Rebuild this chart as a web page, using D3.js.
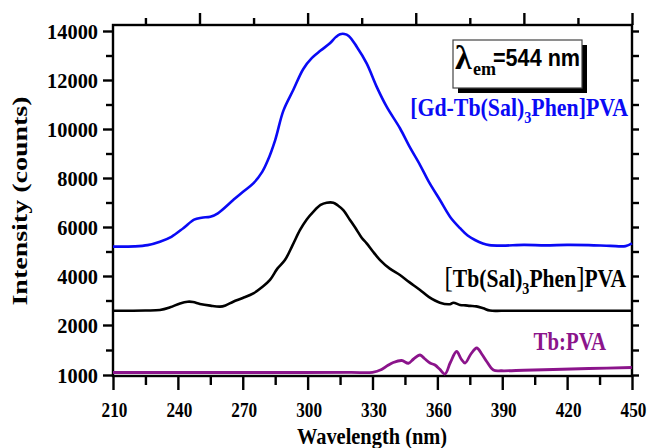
<!DOCTYPE html>
<html><head><meta charset="utf-8">
<script src="https://cdn.jsdelivr.net/npm/d3@7"></script>
<style>
html,body{margin:0;padding:0;background:#fff;}
svg{display:block;}
</style></head><body>
<svg id="chart" width="648" height="448"></svg>
<script>
// Excitation spectra (emission monitored at 544 nm)
const xMajorTicks = [210, 240, 270, 300, 330, 360, 390, 420, 450];
const xMinorTicks = [225, 255, 285, 315, 345, 375, 405, 435];
const xTopMajor = [250, 300, 350, 400, 450];
const xTopMinor = [225, 275, 325, 375, 425];
const yMajorTicks = [1000, 2000, 4000, 6000, 8000, 10000, 12000, 14000];
const yTickLabels = ["1000", "2000", "4000", "6000", "8000", "10000", "12000", "14000"];
const yMinorTicks = [1500, 3000, 5000, 7000, 9000, 11000, 13000];

// [Gd-Tb(Sal)3Phen]PVA
const gdWl = [210, 220, 226, 231.7, 237, 242.5, 247.5, 251, 255, 258.5, 265.6, 270, 275, 279, 281.5, 285, 288.8, 293.4, 298, 302, 306, 310.3, 313, 315, 317, 319, 322.7, 327.3, 331.9, 336.6, 342.7, 347, 352, 356, 361.2, 366, 370.5, 374, 377.4, 381, 384, 390, 400, 410, 420, 430, 440, 447, 450];
const gdVal = [5200, 5210, 5260, 5400, 5600, 5950, 6300, 6380, 6420, 6560, 7100, 7430, 7790, 8250, 8700, 9550, 10750, 11600, 12450, 12900, 13200, 13500, 13750, 13870, 13880, 13800, 13360, 12680, 11730, 10900, 10030, 9300, 8530, 7850, 7100, 6400, 5950, 5650, 5470, 5330, 5260, 5240, 5270, 5250, 5270, 5260, 5230, 5220, 5330];

// [Tb(Sal)3Phen]PVA
const tbWl = [210, 225, 231.7, 236.4, 241, 244.5, 247, 250.2, 255, 259.5, 262, 265.6, 270, 274.9, 279, 282.6, 286, 289.5, 293, 296.5, 299.5, 302.6, 306, 308.8, 311.9, 314, 316.5, 319.5, 322.7, 325, 327.3, 330, 333.5, 338, 342.7, 347, 352, 356, 361.2, 365.8, 367.4, 370.5, 373, 375.1, 378, 381.2, 384.3, 390, 420, 450];
const tbVal = [2580, 2590, 2610, 2720, 2880, 2950, 2940, 2860, 2790, 2750, 2800, 2950, 3100, 3290, 3550, 3840, 4300, 4650, 5250, 5880, 6300, 6620, 6900, 6990, 6990, 6880, 6690, 6300, 5880, 5560, 5330, 5020, 4650, 4300, 4040, 3750, 3430, 3150, 2910, 2850, 2910, 2820, 2800, 2780, 2760, 2680, 2590, 2580, 2580, 2580];

// Tb:PVA
const pvaWl = [210, 250, 290, 320, 330, 334.2, 337, 339.6, 343.5, 346.6, 349, 352, 354, 356.6, 358.9, 361, 363.5, 366, 368.9, 371, 372.8, 375.5, 378.2, 380.5, 382.8, 385.9, 389.7, 400, 413.6, 430, 449.9];
const pvaVal = [1050, 1050, 1050, 1052, 1054, 1110, 1190, 1250, 1290, 1235, 1320, 1400, 1330, 1240, 1200, 1120, 1020, 1250, 1470, 1320, 1240, 1420, 1540, 1420, 1270, 1100, 1085, 1095, 1110, 1130, 1150];

const svg = d3.select("#chart");
const plotL = 113, plotR = 632, plotT = 25, plotB = 376;

const x = d3.scaleLinear().domain([210, 450]).range([plotL, plotR]);
// the lowest labelled step (1000 to 2000) spans the same height as a 2000 step
const y = d3.scaleLinear().domain([1000, 2000, 14000]).range([375, 325, 31]);

const serif = "'Liberation Serif', 'Times New Roman', serif";
const sans = "'Liberation Sans', Arial, sans-serif";

function styleAxis(g) {
  g.select(".domain").remove();
  g.selectAll("line").attr("stroke", "#000").attr("stroke-width", 2.4);
  g.attr("font-family", serif).attr("font-size", 21).attr("font-weight", "bold");
  g.selectAll("text").attr("fill", "#000");
}

// bottom axis
svg.append("g").attr("transform", `translate(0,${plotB})`)
  .call(d3.axisBottom(x).tickValues(xMinorTicks).tickSize(9).tickFormat(""))
  .call(styleAxis);
svg.append("g").attr("transform", `translate(0,${plotB})`)
  .call(d3.axisBottom(x).tickValues(xMajorTicks).tickSize(14).tickFormat(d3.format("d")))
  .call(styleAxis)
  .call(g => g.selectAll("text").attr("y", null).attr("dy", null)
    .attr("transform", "translate(1,41) scale(0.82,1)"));

// top axis
svg.append("g").attr("transform", `translate(0,${plotT})`)
  .call(d3.axisTop(x).tickValues(xTopMinor).tickSize(7).tickFormat(""))
  .call(styleAxis);
svg.append("g").attr("transform", `translate(0,${plotT})`)
  .call(d3.axisTop(x).tickValues(xTopMajor).tickSize(12).tickFormat(""))
  .call(styleAxis);

// left axis
svg.append("g").attr("transform", `translate(${plotL},0)`)
  .call(d3.axisLeft(y).tickValues(yMinorTicks).tickSize(7).tickFormat(""))
  .call(styleAxis);
svg.append("g").attr("transform", `translate(${plotL},0)`)
  .call(d3.axisLeft(y).tickValues(yMajorTicks).tickSize(10).tickFormat((d, i) => yTickLabels[i]))
  .call(styleAxis)
  .call(g => g.selectAll("text").attr("x", null).attr("dy", "0.35em")
    .attr("transform", "translate(-15,0) scale(0.97,1)"));

// right axis
svg.append("g").attr("transform", `translate(${plotR},0)`)
  .call(d3.axisRight(y).tickValues(yMajorTicks.concat(yMinorTicks)).tickSize(7).tickFormat(""))
  .call(styleAxis);

// frame
svg.append("rect").attr("x", plotL).attr("y", plotT)
  .attr("width", plotR - plotL).attr("height", plotB - plotT)
  .attr("fill", "none").attr("stroke", "#000").attr("stroke-width", 2.4);

// spectra
const line = d3.line().x(d => x(d[0])).y(d => y(d[1])).curve(d3.curveCatmullRom.alpha(0.5));
const series = [
  { wl: pvaWl, val: pvaVal, color: "#8b148b", w: 2.8 },
  { wl: tbWl, val: tbVal, color: "#000000", w: 2.6 },
  { wl: gdWl, val: gdVal, color: "#0a0af5", w: 2.6 }
];
series.forEach(s => {
  svg.append("path")
    .datum(s.wl.map((w, i) => [w, s.val[i]]))
    .attr("fill", "none").attr("stroke", s.color).attr("stroke-width", s.w)
    .attr("stroke-linejoin", "round").attr("d", line);
});

// axis titles
svg.append("text").attr("transform", "translate(372,444) scale(0.85,1)")
  .attr("text-anchor", "middle").attr("font-family", serif).attr("font-weight", "bold")
  .attr("font-size", 24).text("Wavelength (nm)");
svg.append("text").attr("transform", "translate(27,201) scale(0.75,1) rotate(-90)")
  .attr("text-anchor", "middle").attr("font-family", serif).attr("font-weight", "bold")
  .attr("font-size", 28).text("Intensity (counts)");

// excitation note box with drop shadow
svg.append("rect").attr("x", 458).attr("y", 45).attr("width", 129).attr("height", 48).attr("fill", "#000");
svg.append("rect").attr("x", 453).attr("y", 40).attr("width", 129).attr("height", 48)
  .attr("fill", "#fff").attr("stroke", "#444").attr("stroke-width", 1.2);
const note = svg.append("g").attr("font-weight", "bold").attr("fill", "#000");
note.append("text").attr("x", 455).attr("y", 69).attr("font-family", serif).attr("font-size", 34).text("λ");
note.append("text").attr("x", 473).attr("y", 75).attr("font-family", serif).attr("font-size", 18).text("em");
note.append("text").attr("transform", "translate(493,66) scale(0.9,1)")
  .attr("font-family", sans).attr("font-size", 24).text("=544 nm");

// series labels
function seriesLabel(tx, ty, color, sx, parts) {
  const t = svg.append("text").attr("transform", `translate(${tx},${ty}) scale(${sx},1)`)
    .attr("text-anchor", "end").attr("font-family", serif).attr("font-weight", "bold")
    .attr("font-size", 26).attr("fill", color);
  parts.forEach(p => {
    const ts = t.append("tspan").text(p.t);
    if (p.sub) ts.attr("font-size", 17).attr("dy", 7);
    if (p.back) ts.attr("dy", -7);
    if (p.light) ts.attr("font-weight", "normal").attr("font-size", 30);
  });
}
seriesLabel(628, 116, "#0a0af5", 0.84, [
  { t: "[" }, { t: "Gd-Tb(Sal)" }, { t: "3", sub: true }, { t: "Phen]PVA", back: true }
]);
seriesLabel(626, 287, "#000", 0.83, [
  { t: "[", light: true }, { t: "Tb(Sal)" }, { t: "3", sub: true }, { t: "Phen", back: true }, { t: "]", light: true }, { t: "PVA" }
]);
seriesLabel(606, 350, "#8b148b", 0.8, [{ t: "Tb:PVA" }]);
</script>
</body></html>
